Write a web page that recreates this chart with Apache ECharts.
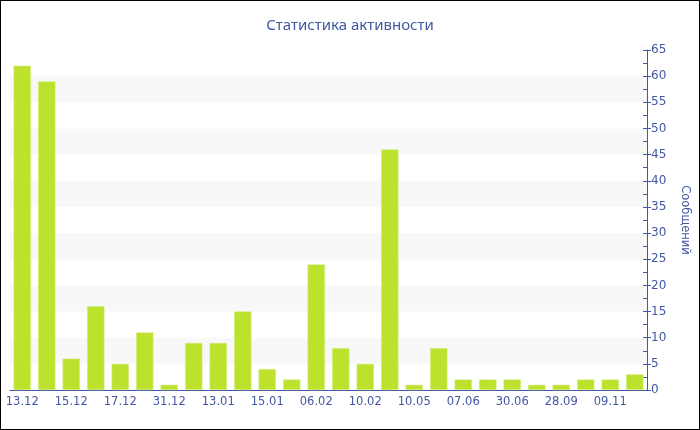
<!DOCTYPE html>
<html><head><meta charset="utf-8">
<script src="https://cdn.jsdelivr.net/npm/echarts@6/dist/echarts.min.js"></script>
<style>
html,body{margin:0;padding:0;background:#fff;}
#c{width:700px;height:430px;box-sizing:border-box;border:1px solid #000;}
</style></head>
<body><div id="c"></div>
<script>
const categories = ['13.12','14.12','15.12','16.12','17.12','20.12','31.12','06.01','13.01','14.01','15.01','24.01','06.02','07.02','10.02','11.02','10.05','20.05','07.06','15.06','30.06','14.07','28.09','15.10','09.11','20.11'];
const messages = [62,59,6,16,5,11,1,9,9,15,4,2,24,8,5,46,1,8,2,2,2,1,1,2,2,3];
const titleText = 'Статистика активности';
const axisName = 'Сообщений';

const blue = '#4357a3';
const font = 'DejaVu Sans';
const chart = echarts.init(document.getElementById('c'), null, {renderer:'canvas'});
chart.setOption({
  animation:false,
  title:{text:titleText,left:'center',top:12,textStyle:{color:blue,fontSize:15,fontWeight:'normal',fontFamily:'Noto Sans'}},
  grid:{left:9,right:49,top:49,bottom:39,containLabel:false},
  xAxis:{type:'category',data:categories,boundaryGap:true,
    axisLine:{lineStyle:{color:blue,width:1}},
    axisTick:{alignWithLabel:true,interval:1,length:4,lineStyle:{color:blue}},
    axisLabel:{interval:1,color:blue,fontSize:11.5,fontFamily:font,margin:6},
    splitLine:{show:false}},
  yAxis:[{type:'value',position:'right',min:0,max:65,interval:5,
    name:axisName,nameLocation:'middle',nameRotate:-90,nameGap:32,
    nameTextStyle:{color:blue,fontSize:11.5,fontFamily:font},
    axisLine:{show:true,lineStyle:{color:blue}},
    axisTick:{show:true,length:4,lineStyle:{color:blue}},
    axisLabel:{color:blue,fontSize:12,fontFamily:font,margin:4},
    splitLine:{show:false},
    splitArea:{show:true,areaStyle:{color:['#ffffff','#f8f8f8']}}},
   {type:'value',position:'right',min:0,max:65,interval:5,
    axisLine:{show:false},
    axisTick:{show:true,inside:true,length:4,lineStyle:{color:blue}},
    minorTick:{show:true,splitNumber:2,length:4,lineStyle:{color:blue}},
    axisLabel:{show:false},splitLine:{show:false}}],
  series:[{type:'bar',data:messages,barCategoryGap:'29%',
    itemStyle:{color:'#bde22e',borderColor:'#d3ec7f',borderWidth:0.6}}]
});
</script></body></html>
